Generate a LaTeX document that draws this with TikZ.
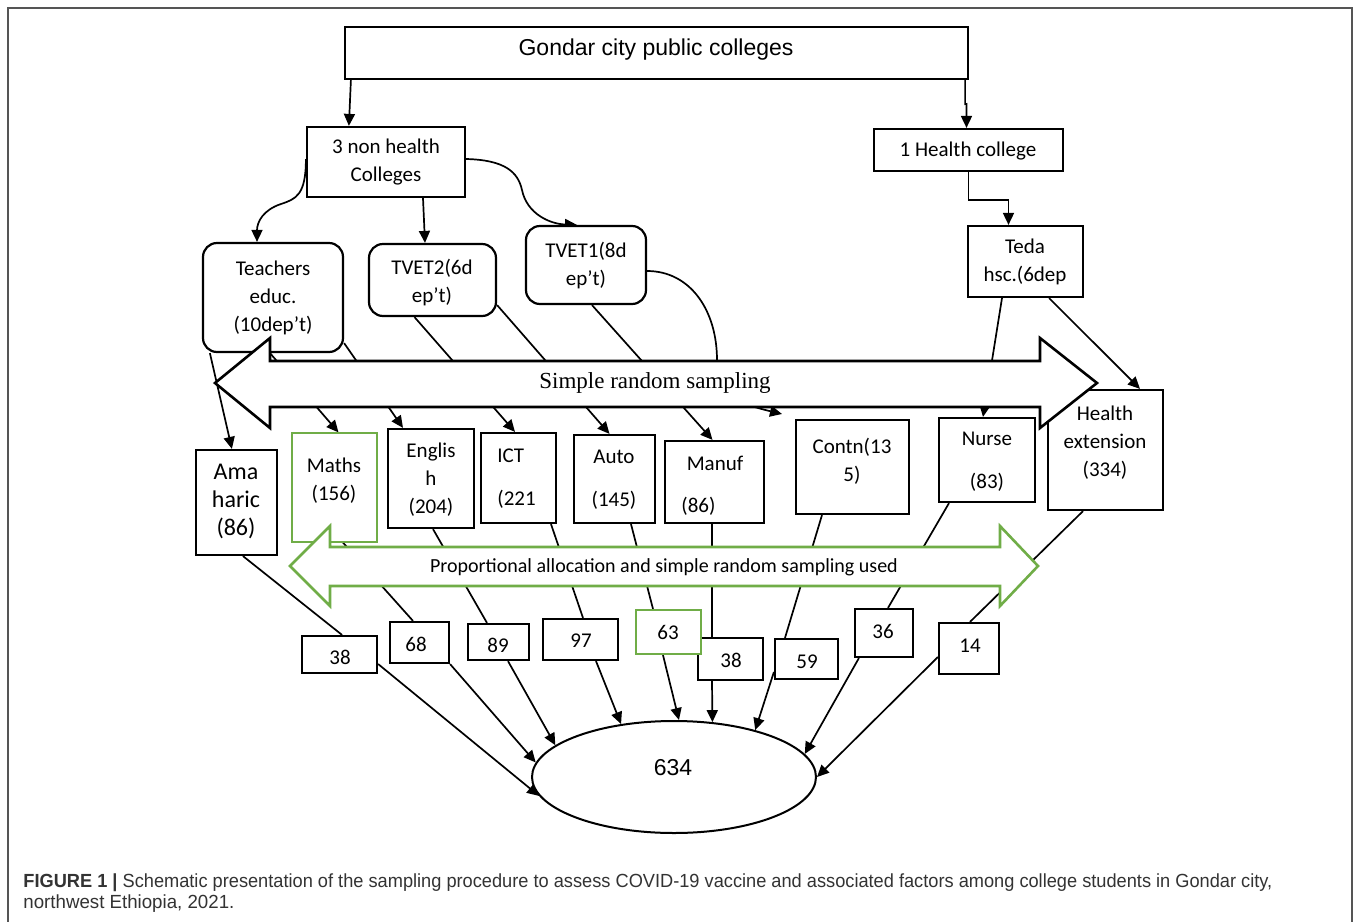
\documentclass[tikz,border=0pt]{standalone}
\usepackage{fontspec}
\usepackage{graphicx}
\usetikzlibrary{arrows.meta,shapes.geometric,calc}
\newfontfamily\calfont{Carlito}
\newfontfamily\arifont{Liberation Sans}
\newfontfamily\tmsfont{Liberation Serif}
\definecolor{grn}{HTML}{70AD47}
\definecolor{framec}{HTML}{555555}
\definecolor{capc}{HTML}{333333}
\pgfdeclarelayer{bg}
\pgfsetlayers{bg,main}
\begin{document}
\begin{tikzpicture}[x=0.5pt,y=-0.5pt,
  box/.style={draw, line width=1.1pt, fill=white, inner sep=0pt, rectangle},
  rbox/.style={box, rounded corners=7pt},
  txt/.style={inner sep=0pt, align=center, font=\calfont\fontsize{10.5}{14}\selectfont},
  wtxt/.style={inner sep=0pt, align=center, font=\calfont\fontsize{10.5}{21.5}\selectfont},
  num/.style={inner sep=0pt, font=\calfont\fontsize{10.5}{12}\selectfont},
  conn/.style={line width=0.85pt},
  arr/.style={conn, -{Triangle[length=6pt,width=5.5pt]}},
  bigarrow/.style={draw, line width=1.3pt, fill=white, line join=miter},
]
\useasboundingbox (0,0) rectangle (1357,922);
\draw[framec, line width=1pt] (8,922) -- (8,8) -- (1352,8) -- (1352,922);

% top level
\node[box, minimum width=311.5pt, minimum height=26pt] (top) at (656.5,53) {};
\node[txt, font=\arifont\fontsize{11.5}{14}\selectfont] (topt) at (656,50) {Gondar city public colleges};
\node[box, minimum width=79pt, minimum height=35pt] (nh) at (386,162) {};
\node[txt] (nht) at (386,162) {3 non health\\Colleges};
\node[box, minimum width=94.5pt, minimum height=21pt] (hc) at (968.5,150) {};
\node[txt] (hct) at (968,151) {1 Health college};
\node[box, minimum width=57.5pt, minimum height=35.5pt] (teda) at (1025.5,261.5) {};
\node[txt] (tedat) at (1025,262) {Teda\\hsc.(6dep};
\node[rbox, minimum width=70pt, minimum height=54.5pt] (teach) at (273,297.5) {};
\node[txt] (teacht) at (273,298) {Teachers\\educ.\\(10dep’t)};
\node[rbox, minimum width=63.5pt, minimum height=36pt] (tvet2) at (432.5,280) {};
\node[txt] (tvet2t) at (432,283) {TVET2(6d\\ep’t)};
\node[rbox, minimum width=60pt, minimum height=39pt] (tvet1) at (586,265) {};
\node[txt] (tvet1t) at (586,266) {TVET1(8d\\ep’t)};

% departments
\node[box, minimum width=40.5pt, minimum height=52.5pt] (amh) at (236.5,502.5) {};
\node[txt, font=\calfont\fontsize{12}{14}\selectfont] (amht) at (236,501) {Ama\\haric\\(86)};
\node[box, draw=grn, line width=0.6pt, minimum width=42.5pt, minimum height=54.5pt] (maths) at (334.5,487.5) {};
\node[txt] (mathst) at (334,481) {Maths\\(156)};
\node[box, minimum width=43pt, minimum height=49.5pt] (eng) at (431,478.5) {};
\node[txt] (engt) at (431,480) {Englis\\h\\(204)};
\node[box, minimum width=37.5pt, minimum height=45pt] (ict) at (518.5,478) {};
\node[wtxt, align=left, anchor=west] (ictt) at (497,479) {ICT\\(221};
\node[box, minimum width=40.5pt, minimum height=44pt] (auto) at (614.5,479) {};
\node[wtxt] (autot) at (614,480) {Auto\\(145)};
\node[box, minimum width=49.5pt, minimum height=41pt] (manuf) at (714.5,482) {};
\node[txt] (manuft) at (715,463) {Manuf};
\node[txt, anchor=west] (manufn) at (681,506) {(86)};
\node[box, minimum width=56.5pt, minimum height=47pt] (contn) at (852.5,467) {};
\node[txt] (contnt) at (852,461) {Contn(13\\5)};
\node[box, minimum width=48pt, minimum height=42pt] (nurse) at (987,460) {};
\node[wtxt] (nurset) at (987,462) {Nurse\\(83)};
\node[box, minimum width=57.5pt, minimum height=60pt] (hext) at (1105.5,450) {};
\node[txt] (hextt) at (1105,443) {Health\\extension\\(334)};

% sample sizes
\node[box, minimum width=37.5pt, minimum height=18.5pt] (n38a) at (339.5,654.5) {};
\node[num] (n38at) at (340,657) {38};
\node[box, minimum width=29.5pt, minimum height=20.5pt] (n68) at (419.5,642.5) {};
\node[num] (n68t) at (416,644) {68};
\node[box, minimum width=30.5pt, minimum height=18pt] (n89) at (498.5,642) {};
\node[num] (n89t) at (498,645) {89};
\node[box, minimum width=37.5pt, minimum height=20.5pt] (n97) at (580.5,639.5) {};
\node[num] (n97t) at (581,641) {97};
\node[box, minimum width=32.5pt, minimum height=21pt] (n38b) at (730.5,659) {};
\node[num] (n38bt) at (731,660) {38};
\node[box, draw=grn, minimum width=32.5pt, minimum height=22pt] (n63) at (668.5,632) {};
\node[num] (n63t) at (668,632) {63};
\node[box, minimum width=31.5pt, minimum height=20pt] (n59) at (806.5,659) {};
\node[num] (n59t) at (807,662) {59};
\node[box, minimum width=29pt, minimum height=24pt] (n36) at (884,633) {};
\node[num] (n36t) at (883,631) {36};
\node[box, minimum width=30pt, minimum height=25.5pt] (n14) at (969,648.5) {};
\node[num] (n14t) at (970,646) {14};

\node[draw, ellipse, line width=1pt, fill=white, inner sep=0pt, minimum width=142pt, minimum height=56pt] (ell) at (674,777) {};
\node[inner sep=0pt, font=\arifont\fontsize{11.5}{14}\selectfont] (ellt) at (673,768) {634};

\coordinate (cend) at (782,414);

\begin{pgfonlayer}{bg}
\fill[white] (0,0) rectangle (1357,922);
\draw[arr] ($(top.south west)+(7,0)$) -- ($(nh.north west)+(43,0)$);
\draw[arr] ($(top.south east)+(-4,0)$) -- ++(0,24) -- ($(hc.north)+(-2,-24)$) -- ($(hc.north)+(-2,0)$);
\draw[arr] (hc.south) -- ++(0,28) -| ($(teda.north)+(-17,0)$);
\draw[arr] ($(nh.south)+(37,0)$) -- ($(tvet2.north)+(-7.5,0)$);
\draw[arr] ($(nh.west)+(0,-3)$) .. controls (306,195) and (296,199) .. (281,204) .. controls (263,210) and (257,222) .. ($(teach.north)+(-16,0)$);
\draw[arr] ($(nh.east)+(0,-3)$) .. controls (505,160) and (518,172) .. (522,190) .. controls (527,214) and (550,224) .. ($(tvet1.north)+(-9,0)$);
\draw[arr] ($(teach.south west)+(8,0)$) -- ($(amh.north west)+(37,0)$);
\draw[arr] ($(teach.south)+(-3,0)$) -- ($(maths.north)+(4,0)$);
\draw[arr] ($(teach.south east)+(0,-10)$) -- ($(eng.north)+(-28,0)$);
\draw[arr] ($(tvet2.south)+(-18,0)$) -- ($(ict.north)+(-3.5,0)$);
\draw[arr] ($(tvet2.south east)+(0,-12)$) -- ($(auto.north)+(-5,0)$);
\draw[arr] ($(tvet1.south)+(6,0)$) -- ($(manuf.north)+(-2,0)$);
\draw[arr] ($(tvet1.east)+(0,6)$) .. controls (690,271) and (717,310) .. (717,360) .. controls (717,395) and (740,404) .. (cend);
\draw[arr] ($(teda.south)+(-23.5,0)$) -- ($(nurse.north)+(-4,0)$);
\draw[arr] ($(teda.south east)+(-35,0)$) -- ($(hext.north)+(34.5,0)$);

\draw[conn] ($(amh.south)+(6.5,0)$) -- ($(n38a.north)+(2.5,0)$);
\draw[conn] ($(maths.south)+(8.5,0)$) -- ($(n68.north)+(-6.5,0)$);
\draw[conn] ($(eng.south)+(2,0)$) -- ($(n89.north)+(-11.5,0)$);
\draw[conn] ($(ict.south)+(32.5,0)$) -- ($(n97.north)+(2.5,0)$);
\draw[conn] ($(auto.south)+(16.5,0)$) -- ($(n63.north)+(-15.5,0)$);
\draw[conn] ($(manuf.south)+(-2.5,0)$) -- ($(n38b.north)+(-18.5,0)$);
\draw[conn] ($(contn.south)+(-30.5,0)$) -- ($(n59.north)+(-21.5,0)$);
\draw[conn] ($(nurse.south)+(-38,0)$) -- ($(n36.north)+(4,0)$);
\draw[conn] ($(hext.south)+(-22.5,0)$) -- ($(n14.north)+(1,0)$);

\draw[arr] ($(n38a.east)+(0,9.5)$) -- (ell.188);
\draw[arr] (n68.south east) -- (ell.174);
\draw[arr] ($(n89.south)+(9.5,0)$) -- (ell.165);
\draw[arr] ($(n97.south)+(15.5,0)$) -- (ell.135);
\draw[arr] ($(n63.south)+(-5.5,0)$) -- (ell.85);
\draw[arr] ($(n38b.south)+(-18.5,0)$) -- (ell.55);
\draw[arr] ($(n59.west)+(0,13)$) -- (ell.30);
\draw[arr] ($(n36.south west)+(5,0)$) -- (ell.10);
\draw[arr] ($(n14.west)+(0,8.5)$) -- (ell.0);
\end{pgfonlayer}

% big arrows
\draw[bigarrow] (215,383) -- (270,338) -- (270,361) -- (1040,361) -- (1040,338) -- (1097,383) -- (1040,428) -- (1040,407) -- (270,407) -- (270,428) -- cycle;
\node[inner sep=0pt, font=\tmsfont\fontsize{11.5}{14}\selectfont] (srs) at (655,383) {Simple random sampling};
\draw[bigarrow, draw=grn] (290,566) -- (330,526) -- (330,547) -- (1000,547) -- (1000,526) -- (1038,566) -- (1000,606) -- (1000,586) -- (330,586) -- (330,606) -- cycle;
\node[inner sep=0pt, font=\calfont\fontsize{10}{12}\selectfont] (pas) at (664,567) {Proportional allocation and simple random sampling used};

% caption
\node[anchor=base west, inner sep=0pt, text=capc, font=\arifont\fontsize{9.5}{11}\selectfont] (cap1) at (23,887)
  {\resizebox{624.5pt}{\height}{\textbf{FIGURE 1 |} Schematic presentation of the sampling procedure to assess COVID-19 vaccine and associated factors among college students in Gondar city,}};
\node[anchor=base west, inner sep=0pt, text=capc, font=\arifont\fontsize{9.5}{11}\selectfont] (cap2) at (23,908)
  {\resizebox{105.5pt}{\height}{northwest Ethiopia, 2021.}};
\end{tikzpicture}
\end{document}
